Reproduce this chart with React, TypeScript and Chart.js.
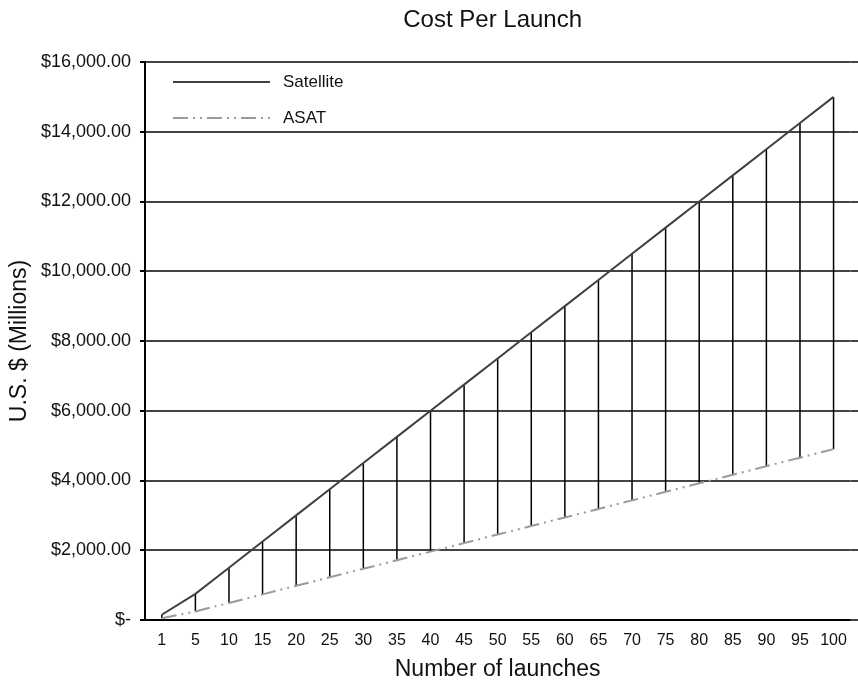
import React, { useEffect, useRef } from 'react';
import { Chart, registerables } from 'chart.js';

Chart.register(...registerables);

const launches = ['1', '5', '10', '15', '20', '25', '30', '35', '40', '45', '50', '55', '60', '65', '70', '75', '80', '85', '90', '95', '100'];
const satelliteCost = [150, 750, 1500, 2250, 3000, 3750, 4500, 5250, 6000, 6750, 7500, 8250, 9000, 9750, 10500, 11250, 12000, 12750, 13500, 14250, 15000];
const asatCost = [49, 245, 490, 735, 980, 1225, 1470, 1715, 1960, 2205, 2450, 2695, 2940, 3185, 3430, 3675, 3920, 4165, 4410, 4655, 4900];
const yTickValues = [0, 2000, 4000, 6000, 8000, 10000, 12000, 14000, 16000];
const seriesNames = ['Satellite', 'ASAT'];
const chartTitle = 'Cost Per Launch';
const xAxisTitle = 'Number of launches';
const yAxisTitle = 'U.S. $ (Millions)';

const FONT = '"Liberation Sans", Arial, Helvetica, sans-serif';
const SAT_COLOR = '#404040';
const ASAT_COLOR = '#9a9a9a';
const GRID_COLOR = '#444';
const ASAT_DASH = [15, 5, 2, 5, 2, 5];

function formatMoney(v: number): string {
  if (v === 0) return '$-';
  return '$' + v.toLocaleString('en-US', { minimumFractionDigits: 2, maximumFractionDigits: 2 });
}

const dropLinesPlugin = {
  id: 'dropLines',
  beforeDatasetsDraw(chart: any) {
    const ctx = chart.ctx;
    const area = chart.chartArea;
    const yScale = chart.scales.y;
    // grid lines continue to the right edge of the canvas
    ctx.save();
    ctx.strokeStyle = GRID_COLOR;
    ctx.lineWidth = 2;
    for (const v of yTickValues) {
      const py = Math.round(yScale.getPixelForValue(v));
      ctx.beginPath();
      ctx.moveTo(area.right, py);
      ctx.lineTo(chart.width, py);
      ctx.stroke();
    }
    ctx.restore();

    const a = chart.getDatasetMeta(0).data;
    const b = chart.getDatasetMeta(1).data;
    ctx.save();
    ctx.strokeStyle = '#000';
    ctx.lineWidth = 1.5;
    for (let i = 0; i < a.length && i < b.length; i++) {
      ctx.beginPath();
      ctx.moveTo(a[i].x, a[i].y);
      ctx.lineTo(b[i].x, b[i].y);
      ctx.stroke();
    }
    ctx.restore();
  },
};

const decorPlugin = {
  id: 'decor',
  afterDraw(chart: any) {
    const ctx = chart.ctx;
    const area = chart.chartArea;
    ctx.save();
    // title
    ctx.fillStyle = '#111';
    ctx.font = `24px ${FONT}`;
    ctx.textAlign = 'center';
    ctx.textBaseline = 'alphabetic';
    ctx.fillText(chartTitle, (area.left + area.right) / 2 - 5, 27);
    // legend
    const lx0 = area.left + 28;
    const lx1 = lx0 + 97;
    const rows = [
      { name: seriesNames[0], color: SAT_COLOR, dash: [] as number[], y: area.top + 20 },
      { name: seriesNames[1], color: ASAT_COLOR, dash: ASAT_DASH, y: area.top + 56 },
    ];
    ctx.font = `17px ${FONT}`;
    ctx.textAlign = 'left';
    ctx.textBaseline = 'middle';
    for (const r of rows) {
      ctx.beginPath();
      ctx.setLineDash(r.dash);
      ctx.strokeStyle = r.color;
      ctx.lineWidth = 2;
      ctx.moveTo(lx0, r.y);
      ctx.lineTo(lx1, r.y);
      ctx.stroke();
      ctx.setLineDash([]);
      ctx.fillStyle = '#111';
      ctx.fillText(r.name, lx1 + 13, r.y);
    }
    ctx.restore();
  },
};

export default function App() {
  const ref = useRef<HTMLCanvasElement | null>(null);
  useEffect(() => {
    if (!ref.current) return;
    const chart = new Chart(ref.current, {
      type: 'line',
      data: {
        labels: launches,
        datasets: [
          {
            label: seriesNames[0],
            data: satelliteCost,
            borderColor: SAT_COLOR,
            borderWidth: 2,
            pointRadius: 0,
            fill: false,
            tension: 0,
          },
          {
            label: seriesNames[1],
            data: asatCost,
            borderColor: ASAT_COLOR,
            borderWidth: 2,
            borderDash: ASAT_DASH,
            pointRadius: 0,
            fill: false,
            tension: 0,
          },
        ],
      },
      options: {
        responsive: false,
        animation: false,
        devicePixelRatio: 1,
        layout: { padding: { top: 62, right: 4, bottom: 0, left: 0 } },
        plugins: {
          legend: { display: false },
          title: { display: false },
          tooltip: { enabled: false },
        },
        scales: {
          x: {
            type: 'category',
            offset: true,
            grid: { display: false, drawTicks: false },
            border: { display: true, color: '#000', width: 2 },
            ticks: {
              color: '#111',
              font: { family: FONT, size: 16 },
              autoSkip: false,
              maxRotation: 0,
              padding: 11,
            },
            title: {
              display: true,
              text: xAxisTitle,
              color: '#111',
              font: { family: FONT, size: 23 },
              padding: { top: 0, bottom: 0 },
            },
            afterFit: (scale: any) => {
              scale.height = 63;
            },
          },
          y: {
            min: 0,
            max: 16000,
            afterBuildTicks: (scale: any) => {
              scale.ticks = yTickValues.map((v) => ({ value: v }));
            },
            grid: { color: GRID_COLOR, lineWidth: 2, drawTicks: true, tickLength: 5, tickColor: '#000' },
            border: { display: true, color: '#000', width: 2 },
            ticks: {
              color: '#111',
              font: { family: FONT, size: 18 },
              padding: 9,
              callback: (v: any) => formatMoney(Number(v)),
            },
            title: {
              display: true,
              text: yAxisTitle,
              color: '#111',
              font: { family: FONT, size: 23 },
              padding: { top: 6, bottom: 0 },
            },
            afterFit: (scale: any) => {
              scale.width = 145;
            },
          },
        },
      },
      plugins: [dropLinesPlugin, decorPlugin],
    });
    return () => chart.destroy();
  }, []);
  return (
    <div style={{ position: 'absolute', left: 0, top: 0, width: 858, height: 683, background: '#fff' }}>
      <canvas ref={ref} width={858} height={683} style={{ display: 'block' }} />
    </div>
  );
}
